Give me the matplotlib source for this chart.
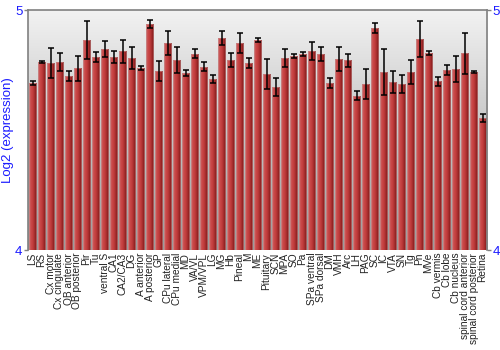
import matplotlib
matplotlib.use("Agg")
import matplotlib.pyplot as plt
import numpy as np
from matplotlib.colors import LinearSegmentedColormap

plt.rcParams['font.family'] = ['Liberation Sans', 'DejaVu Sans']

# tissue names
regions = ["LS", "RS", "Cx motor", "Cx cingulate", "OB anterior", "OB posterior",
           "Pir", "Tu", "ventral S", "CA1", "CA2/CA3", "DG", "A anterior",
           "A posterior", "GP", "CPu lateral", "CPu medial", "MD", "VA/VL",
           "VPM/VPL", "LG", "MG", "Hb", "Pineal", "M", "ME", "Pituitary", "SCN",
           "MPA", "SO", "Pa", "SPa ventral", "SPa dorsal", "DM", "VMH", "Arc",
           "LH", "PAG", "SC", "IC", "VTA", "SN", "Tg", "Pn", "MVe", "Cb vermis",
           "Cb lobe", "Cb nucleus", "spinal cord anterior",
           "spinal cord posterior", "Retina"]

# log2 expression
values = [4.695, 4.785, 4.779, 4.783, 4.724, 4.757, 4.874, 4.803, 4.839, 4.804,
          4.829, 4.800, 4.757, 4.942, 4.746, 4.861, 4.790, 4.736, 4.818, 4.763,
          4.714, 4.885, 4.790, 4.863, 4.779, 4.874, 4.733, 4.680, 4.801, 4.808,
          4.817, 4.829, 4.815, 4.695, 4.794, 4.790, 4.643, 4.693, 4.925, 4.742,
          4.699, 4.692, 4.740, 4.878, 4.822, 4.703, 4.750, 4.755, 4.819, 4.742,
          4.551]

# standard error
errors = [0.008, 0.004, 0.064, 0.037, 0.021, 0.052, 0.079, 0.021, 0.033, 0.025,
          0.048, 0.044, 0.008, 0.015, 0.042, 0.050, 0.054, 0.012, 0.020, 0.019,
          0.017, 0.029, 0.029, 0.042, 0.021, 0.008, 0.062, 0.037, 0.037, 0.008,
          0.008, 0.037, 0.029, 0.021, 0.050, 0.027, 0.018, 0.062, 0.022, 0.096,
          0.046, 0.037, 0.050, 0.075, 0.008, 0.018, 0.019, 0.054, 0.087, 0.004,
          0.017]

blue = "#1a1aff"
fig = plt.figure(figsize=(5, 3.5), dpi=100)
ax = fig.add_axes([0.056, 0.2857, 0.918, 0.6857])

x = np.arange(len(values))
ax.set_xlim(-0.5, len(values) - 0.5)
ax.set_ylim(4, 5)

# background gradient, light on top, darker towards the bottom
bg = LinearSegmentedColormap.from_list("bg", ["#f2f2f2", "#9a9a9a"])
ax.imshow(np.linspace(1, 0, 256).reshape(-1, 1), cmap=bg, vmin=0, vmax=1,
          aspect="auto", origin="lower",
          extent=[-0.5, len(values) - 0.5, 4, 5], zorder=0)

bars = ax.bar(x, np.array(values) - 4, bottom=4, width=0.86,
              facecolor="none", edgecolor="#c89090", linewidth=0.4, zorder=2)

# horizontal shading inside every bar
red = LinearSegmentedColormap.from_list("red", ["#c87070", "#cc4a4a", "#c03c3c",
                                                "#a02a2a", "#7a1818"])
grad = np.linspace(0, 1, 64).reshape(1, -1)
for b in bars:
    im = ax.imshow(grad, cmap=red, aspect="auto", zorder=1,
                   extent=[b.get_x(), b.get_x() + b.get_width(), 4, b.get_y() + b.get_height()])
    im.set_clip_path(b)

ax.errorbar(x, values, yerr=errors, fmt="none", ecolor="black", elinewidth=1.1,
            capsize=2.2, capthick=1.1, zorder=3)

ax.set_yticks([4, 5])
ax.set_yticklabels(["4", "5"])
ax.tick_params(axis="y", which="both", left=True, right=True, labelleft=True,
               labelright=True, colors="#808080", labelcolor=blue, labelsize=9.5,
               length=3, width=1, pad=1)
ax.set_xticks(x)
ax.set_xticklabels(regions, rotation=90, fontsize=7.3, color="#222222")
ax.tick_params(axis="x", length=0, pad=2)
ax.set_ylabel("Log2 (expression)", color=blue, fontsize=9.5, labelpad=1)

for side in ["top", "left", "right"]:
    ax.spines[side].set_color("#808080")
    ax.spines[side].set_linewidth(1.2)
ax.spines["bottom"].set_visible(False)

fig.savefig("out.png", dpi=100)
